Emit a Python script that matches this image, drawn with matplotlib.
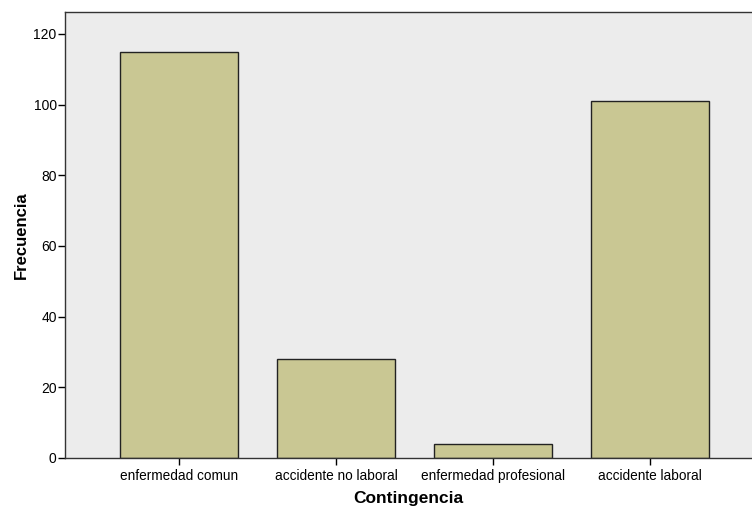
import matplotlib.pyplot as plt

# Datos
categorias = ["enfermedad comun", "accidente no laboral", "enfermedad profesional", "accidente laboral"]
frecuencias = [115, 28, 4, 101]
yticks = [0, 20, 40, 60, 80, 100, 120]

plt.rcParams['font.family'] = ['Liberation Sans', 'DejaVu Sans']

fig = plt.figure(figsize=(7.52, 5.09), dpi=100)
ax = fig.add_axes([0.0864, 0.1002, 0.9136, 0.8762])
ax.set_facecolor('#ECECEC')

x = range(len(categorias))
ax.bar(x, frecuencias, width=0.75, color='#C9C793', edgecolor='#222222', linewidth=1, zorder=2)

ax.set_xlim(-0.726, 3.65)
ax.set_ylim(0, 126.2)
ax.set_xticks(list(x))
ax.set_xticklabels(categorias, fontsize=9.8)
ax.set_yticks(yticks)
ax.tick_params(axis='y', labelsize=10, length=5, width=1, pad=1)
ax.tick_params(axis='x', length=5, width=1, pad=3)

ax.spines['right'].set_visible(False)
for s in ['left', 'bottom', 'top']:
    ax.spines[s].set_color('#333333')
    ax.spines[s].set_linewidth(1)

ax.set_xlabel("Contingencia", fontsize=12.5, fontweight='bold', labelpad=6)
ax.set_ylabel("Frecuencia", fontsize=12, fontweight='bold', labelpad=3)

fig.savefig("out.png", dpi=100)
